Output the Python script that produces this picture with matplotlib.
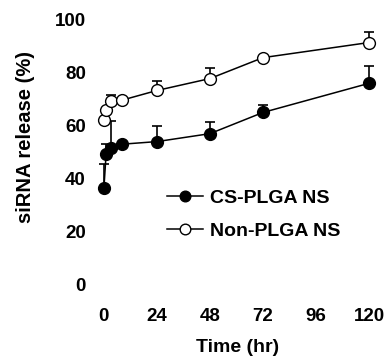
import matplotlib.pyplot as plt

plt.rcParams['font.family'] = ['Liberation Sans', 'DejaVu Sans']
plt.rcParams['font.weight'] = 'bold'

# siRNA release over time
time_hr = [0, 1, 3, 8, 24, 48, 72, 120]
cs_plga = [36.5, 49.5, 51.7, 53, 54, 57, 65, 76]
cs_plga_err = [9, 3.5, 10, 0, 6, 4.3, 3, 6.4]
non_plga = [62, 66, 69.4, 69.6, 73.3, 77.8, 85.7, 91.4]
non_plga_err = [0, 0, 2.3, 0, 3.4, 4, 0.5, 3.9]

fig = plt.figure(figsize=(3.87, 3.58), dpi=100)
ax = fig.add_axes([0.240, 0.168, 0.742, 0.799])

zeros = [0] * len(time_hr)
ax.errorbar(time_hr, cs_plga, yerr=[zeros, cs_plga_err], fmt='-o', color='black',
            mfc='black', mec='black', ms=8.5, lw=1.1, elinewidth=1.2, capsize=3.6,
            capthick=1.2, label='CS-PLGA NS')
ax.errorbar(time_hr, non_plga, yerr=[zeros, non_plga_err], fmt='-o', color='black',
            mfc='white', mec='black', ms=8.5, lw=1.1, elinewidth=1.2, capsize=3.6,
            capthick=1.2, label='Non-PLGA NS')

ax.set_xlim(-5, 125)
ax.set_ylim(-5, 103)
ax.set_xticks([0, 24, 48, 72, 96, 120])
ax.set_yticks([0, 20, 40, 60, 80, 100])
ax.tick_params(length=0, labelsize=13.5)
ax.tick_params(axis='y', pad=5)
ax.tick_params(axis='x', pad=7)
for s in ax.spines.values():
    s.set_visible(False)

fig.text(26 / 387, 1 - 137 / 358, 'siRNA release (%)', rotation=90, ha='center',
         va='center', fontsize=14.5, fontweight='bold')
fig.text(238 / 387, 1 - 348 / 358, 'Time (hr)', ha='center', va='center',
         fontsize=14, fontweight='bold')

handles, labels = ax.get_legend_handles_labels()
handles = [h[0] for h in handles]
ax.legend(handles, labels, loc='upper left', bbox_to_anchor=(167 / 387, 1 - 189 / 358),
          bbox_transform=fig.transFigure, frameon=False, fontsize=14,
          handlelength=1.85, handletextpad=0.36, labelspacing=0.8,
          borderaxespad=0, borderpad=0, markerscale=0.9)

fig.savefig('out.png', dpi=100)
